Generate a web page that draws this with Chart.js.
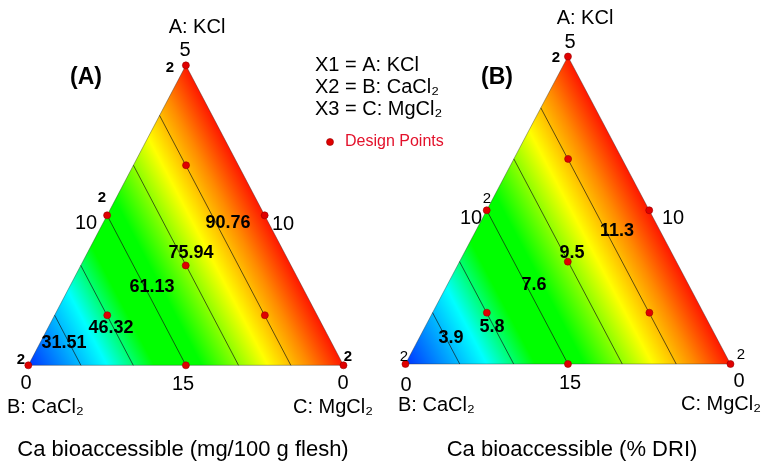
<!DOCTYPE html>
<html lang="en">
<head>
<meta charset="UTF-8">
<title>Ca bioaccessible - mixture contour plots</title>
<style>
    html, body { margin: 0; padding: 0; background: #fff; }
    #wrap { position: relative; width: 766px; height: 465px; }
</style>
</head>
<body>
<div id="wrap"><canvas id="ternary" width="766" height="465"></canvas></div>

<script src="https://cdn.jsdelivr.net/npm/chart.js@4.4.1/dist/chart.umd.min.js"></script>
<script>
// design points, fractions of A: KCl, B: CaCl2, C: MgCl2
const designA = [1, 0, 0, 0.5, 0.5, 0, 0.333, 0.667, 0.167, 0.167];
const designB = [0, 1, 0, 0.5, 0, 0.5, 0.333, 0.167, 0.667, 0.167];
const designC = [0, 0, 1, 0, 0.5, 0.5, 0.333, 0.167, 0.167, 0.667];

// both responses only move along B, so contours are lines of constant B
const contourB = [0.833, 0.667, 0.5, 0.333, 0.167];
const levelsMg = ["31.51", "46.32", "61.13", "75.94", "90.76"];
const levelsDri = ["3.9", "5.8", "7.6", "9.5", "11.3"];

// axis ticks: apex, left side, right side, bottom middle, bottom corners
const tickLabels = ["5", "10", "10", "15", "0", "0"];
const replicates = ["2", "2", "2", "2"];
const vertexNames = ["A: KCl", "B: CaCl\u2082", "C: MgCl\u2082"];
const componentKey = ["X1 = A: KCl", "X2 = B: CaCl\u2082", "X3 = C: MgCl\u2082"];
const titles = ["Ca bioaccessible (mg/100 g flesh)", "Ca bioaccessible (% DRI)"];

// layout of the two triangles inside one data space
const panels = [
    { ox: 0, oy: 0, sx: 1, sy: 1 },
    { ox: 1.1966, oy: 0.0043, sx: 1.0313, sy: 1.0252 },
];

const colorStops = [
    [0, "rgb(0,50,255)"],
    [0.25, "#00ffff"],
    [0.4, "#00ff00"],
    [0.55, "#00ff00"],
    [0.76, "#ffff00"],
    [0.89, "#ff8a00"],
    [1, "#ff1800"],
];

const toXY = (a, b, c, p) => ({ x: p.ox + p.sx * (c + a / 2), y: p.oy + p.sy * a });

function panelGradient(p) {
    return (ctx) => {
        const chart = ctx.chart;
        const xs = chart.scales.x, ys = chart.scales.y;
        if (!xs || !ys || !chart.chartArea) return "rgba(0,0,0,0)";
        const px = v => ({ x: xs.getPixelForValue(v.x), y: ys.getPixelForValue(v.y) });
        const A = px(toXY(1, 0, 0, p)), B = px(toXY(0, 1, 0, p)), C = px(toXY(0, 0, 1, p));
        // foot of the perpendicular from B onto the A-C side (no CaCl2)
        const dx = C.x - A.x, dy = C.y - A.y;
        const t = ((B.x - A.x) * dx + (B.y - A.y) * dy) / (dx * dx + dy * dy);
        const end = [B.x, B.y, A.x + t * dx, A.y + t * dy];
        if (!end.every(Number.isFinite)) return "rgba(0,0,0,0)";
        const g = chart.ctx.createLinearGradient(...end);
        colorStops.forEach(([s, c]) => g.addColorStop(s, c));
        return g;
    };
}

const datasets = [];
panels.forEach(p => {
    datasets.push({
        data: [toXY(0, 1, 0, p), toXY(0, 0, 1, p), toXY(1, 0, 0, p), toXY(0, 1, 0, p)],
        showLine: true,
        fill: "shape",
        backgroundColor: panelGradient(p),
        borderColor: "rgba(50,50,50,0.5)",
        borderWidth: 0.8,
        pointRadius: 0,
        order: 3,
    });
    contourB.forEach(b => {
        datasets.push({
            data: [toXY(1 - b, b, 0, p), toXY(0, b, 1 - b, p)],
            showLine: true,
            borderColor: "rgba(20,20,20,0.85)",
            borderWidth: 0.8,
            pointRadius: 0,
            order: 2,
        });
    });
    datasets.push({
        data: designA.map((a, i) => toXY(a, designB[i], designC[i], p)),
        showLine: false,
        pointRadius: 3.5,
        pointBackgroundColor: "#e00000",
        pointBorderColor: "#990000",
        pointBorderWidth: 0.6,
        order: 1,
    });
});

const FONT = '"Liberation Sans", Arial, sans-serif';
const reg = s => `${s}px ${FONT}`;
const bold = s => `bold ${s}px ${FONT}`;

// text placement (pixels), text itself comes from the arrays above
const texts = [
    // panel A
    { t: vertexNames[0], x: 197, y: 27, f: reg(20) },
    { t: tickLabels[0], x: 185, y: 50, f: reg(20) },
    { t: replicates[0], x: 170, y: 68, f: bold(15) },
    { t: "(A)", x: 86, y: 78, f: bold(23) },
    { t: replicates[1], x: 102, y: 198, f: bold(15) },
    { t: tickLabels[1], x: 86, y: 223, f: reg(20) },
    { t: tickLabels[2], x: 283, y: 224, f: reg(20) },
    { t: replicates[2], x: 21, y: 360, f: bold(15) },
    { t: replicates[3], x: 348, y: 357, f: bold(15) },
    { t: tickLabels[4], x: 26, y: 383, f: reg(20) },
    { t: tickLabels[3], x: 183, y: 384, f: reg(20) },
    { t: tickLabels[5], x: 343, y: 383, f: reg(20) },
    { t: vertexNames[1], x: 7, y: 407, f: reg(20), a: "left" },
    { t: vertexNames[2], x: 373, y: 407, f: reg(20), a: "right" },
    { t: titles[0], x: 183, y: 450, f: reg(22) },
    { t: levelsMg[0], x: 64, y: 343, f: bold(18) },
    { t: levelsMg[1], x: 111, y: 328, f: bold(18) },
    { t: levelsMg[2], x: 152, y: 287, f: bold(18) },
    { t: levelsMg[3], x: 191, y: 253, f: bold(18) },
    { t: levelsMg[4], x: 228, y: 223, f: bold(18) },
    // key in the middle
    { t: componentKey[0], x: 315, y: 65, f: reg(20), a: "left" },
    { t: componentKey[1], x: 315, y: 87, f: reg(20), a: "left" },
    { t: componentKey[2], x: 315, y: 109, f: reg(20), a: "left" },
    { t: "Design Points", x: 345, y: 142, f: reg(16), a: "left", c: "#e3112b" },
    // panel B
    { t: vertexNames[0], x: 585, y: 18, f: reg(20) },
    { t: tickLabels[0], x: 570, y: 42, f: reg(20) },
    { t: replicates[0], x: 556, y: 58, f: bold(15) },
    { t: "(B)", x: 497, y: 78, f: bold(23) },
    { t: replicates[1], x: 487, y: 199, f: reg(15) },
    { t: tickLabels[1], x: 471, y: 218, f: reg(20) },
    { t: tickLabels[2], x: 673, y: 218, f: reg(20) },
    { t: replicates[2], x: 404, y: 357, f: reg(15) },
    { t: replicates[3], x: 741, y: 355, f: reg(15) },
    { t: tickLabels[4], x: 406, y: 385, f: reg(20) },
    { t: tickLabels[3], x: 570, y: 383, f: reg(20) },
    { t: tickLabels[5], x: 739, y: 381, f: reg(20) },
    { t: vertexNames[1], x: 398, y: 405, f: reg(20), a: "left" },
    { t: vertexNames[2], x: 761, y: 404, f: reg(20), a: "right" },
    { t: titles[1], x: 572, y: 450, f: reg(22) },
    { t: levelsDri[0], x: 451, y: 338, f: bold(18) },
    { t: levelsDri[1], x: 492, y: 327, f: bold(18) },
    { t: levelsDri[2], x: 534, y: 285, f: bold(18) },
    { t: levelsDri[3], x: 572, y: 253, f: bold(18) },
    { t: levelsDri[4], x: 617, y: 231, f: bold(18) },
];

const textPlugin = {
    id: "ternaryText",
    afterDatasetsDraw(chart) {
        const ctx = chart.ctx;
        ctx.save();
        // legend marker for design points
        ctx.beginPath();
        ctx.arc(330, 142, 3.5, 0, Math.PI * 2);
        ctx.fillStyle = "#e00000";
        ctx.fill();
        ctx.lineWidth = 0.6;
        ctx.strokeStyle = "#990000";
        ctx.stroke();
        ctx.textBaseline = "middle";
        for (const item of texts) {
            ctx.font = item.f;
            ctx.fillStyle = item.c || "#000";
            ctx.textAlign = item.a || "center";
            ctx.fillText(item.t, item.x, item.y);
        }
        ctx.restore();
    },
};

new Chart("ternary", {
    type: "scatter",
    data: { datasets },
    options: {
        responsive: false,
        animation: false,
        events: [],
        layout: { padding: 0 },
        elements: { line: { tension: 0 } },
        plugins: { legend: { display: false }, tooltip: { enabled: false } },
        scales: {
            x: { type: "linear", display: false, min: -0.0752, max: 2.326 },
            y: { type: "linear", display: false, min: -0.317, max: 1.2026 },
        },
    },
    plugins: [textPlugin],
});
</script>
</body>
</html>
